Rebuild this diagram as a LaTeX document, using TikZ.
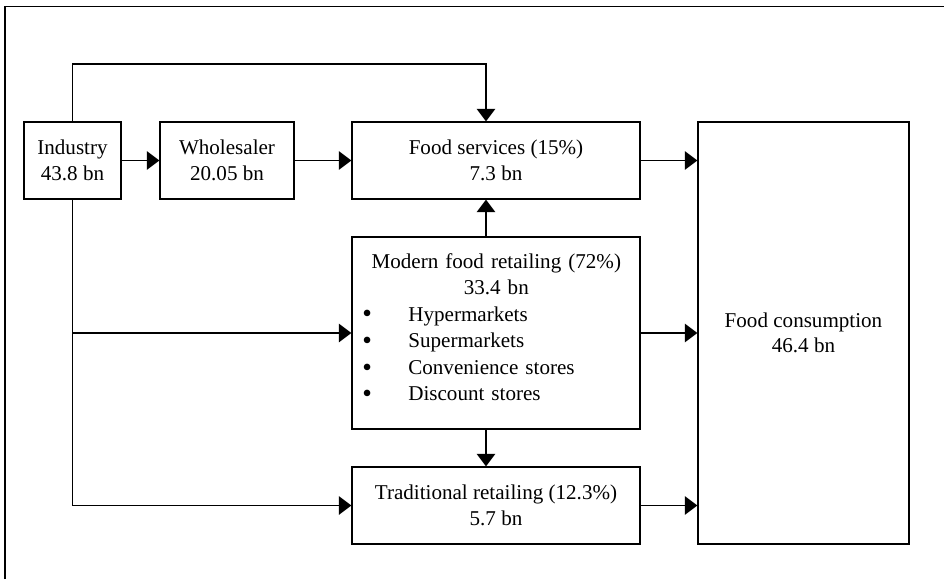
\documentclass[tikz,border=0pt]{standalone}
\usepackage{fontspec}
\setmainfont{Liberation Serif}
\usetikzlibrary{arrows.meta,positioning}
\newcommand{\blt}{\hspace*{0.2cm}\makebox[0.92cm][l]{\raisebox{-0.08em}{\scalebox{1.3}{\textbullet}}}}

\begin{document}
\begin{tikzpicture}[x=0.02cm,y=-0.02cm,font=\fontsize{12}{14.5}\selectfont,
  box/.style={draw,line width=0.75pt,rectangle,inner sep=0pt,minimum height=1.54cm,minimum width=5.76cm,align=center},
  flow/.style={line width=0.75pt,-{Triangle[length=0.25cm,width=0.37cm]}}]
  \useasboundingbox (0,0) rectangle (944,579);
  \draw[line width=0.6pt] (5,579) -- (5,6.5) -- (944,6.5);

  \node[box,minimum width=1.94cm] (ind) at (72.5,160.5) {Industry\\43.8 bn};
  \node[box,minimum width=2.68cm] (whs) at (227,160.5) {Wholesaler\\20.05 bn};
  \node[box] (fs) at (496,160.5) {Food services (15\%)\\7.3 bn};
  \node[box,minimum height=3.84cm] (mod) at (496,333) {};
  \node[anchor=north west,inner sep=0pt,text width=5.76cm,font=\fontsize{12}{15.1}\selectfont] (modtxt) at (352,253)
    {\centering Modern food retailing (72\%)\\33.4 bn\par
     \raggedright
     \blt Hypermarkets\\
     \blt Supermarkets\\
     \blt Convenience stores\\
     \blt Discount stores\par};
  \node[box] (trad) at (496,505.5) {Traditional retailing (12.3\%)\\5.7 bn};
  \node[box,minimum width=4.22cm,minimum height=8.44cm] (cons) at (803.5,333) {Food consumption\\46.4 bn};
  \coordinate (tp) at (486,64);

  \draw[flow] (ind) -- (whs);
  \draw[flow] (whs) -- (fs);
  \draw[flow] (ind.north) |- (tp) -- (tp |- fs.north);
  \draw[flow] (tp |- mod.north) -- (tp |- fs.south);
  \draw[flow] (tp |- mod.south) -- (tp |- trad.north);
  \draw[flow] (ind.south) |- (trad.west);
  \draw[flow] (ind.south |- mod.west) -- (mod.west);
  \draw[flow] (fs.east) -- (fs.east -| cons.west);
  \draw[flow] (mod.east) -- (mod.east -| cons.west);
  \draw[flow] (trad.east) -- (trad.east -| cons.west);
\end{tikzpicture}
\end{document}
